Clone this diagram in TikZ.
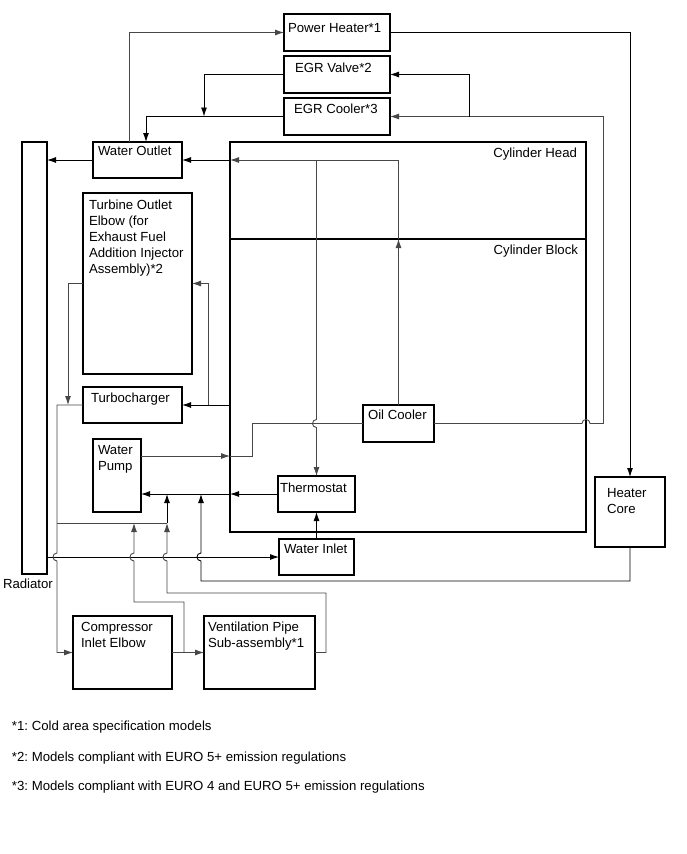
\documentclass[tikz,border=0pt]{standalone}
\usepackage{fontspec}
\setmainfont{Liberation Sans}
\usetikzlibrary{arrows.meta}
\frenchspacing
\newcommand{\mlines}[1]{\begin{tabular}[t]{@{}l@{}}#1\end{tabular}}
\begin{document}
\begin{tikzpicture}[x=1pt,y=-1pt,
 box/.style={draw,line width=1.2pt,inner sep=0pt,outer sep=0pt,rectangle},
 txt/.style={inner sep=0pt,outer sep=0pt,anchor=base west,font=\fontsize{13.2}{16}\selectfont},
 txtr/.style={inner sep=0pt,outer sep=0pt,anchor=base east,font=\fontsize{13.2}{16}\selectfont},
 flow/.style={draw,line width=0.9pt,black},
 flowg/.style={draw,line width=0.9pt,black!72},
 arr/.style={-{Latex[length=9pt,width=6pt]}}]
\useasboundingbox (0,0) rectangle (687,854);
% boxes
\node[box,minimum width=106pt,minimum height=37pt] (pw) at (337,32.5) {};
\node[box,minimum width=106pt,minimum height=37pt] (egrv) at (337,74.5) {};
\node[box,minimum width=106pt,minimum height=37pt] (egrc) at (337,116.5) {};
\node[box,minimum width=89pt,minimum height=36pt] (wo) at (137.5,160) {};
\node[box,line width=1.4pt,minimum width=25pt,minimum height=432pt] (rad) at (34.5,358) {};
\node[box,line width=1.4pt,minimum width=356pt,minimum height=390pt] (cyl) at (408,337) {};
\node[box,minimum width=109pt,minimum height=181pt] (toe) at (137.5,283.5) {};
\node[box,minimum width=99pt,minimum height=36pt] (tc) at (132.5,405) {};
\node[box,minimum width=48pt,minimum height=73pt] (wp) at (117,475.5) {};
\node[box,minimum width=71pt,minimum height=37pt] (oc) at (398.5,423.5) {};
\node[box,minimum width=77pt,minimum height=36pt] (th) at (316.5,494) {};
\node[box,minimum width=75pt,minimum height=36pt] (wi) at (316.5,557) {};
\node[box,minimum width=70pt,minimum height=70pt] (hc) at (630,512) {};
\node[box,minimum width=99pt,minimum height=73pt] (cie) at (122.5,652.5) {};
\node[box,minimum width=111pt,minimum height=73pt] (vp) at (259.5,652.5) {};
\draw[line width=1.2pt] (cyl.west |- 0,239) -- (cyl.east |- 0,239);
% texts
\node[txt] (pwt) at (288,32) {Power Heater*1};
\node[txt] (egrvt) at (295,72) {EGR Valve*2};
\node[txt] (egrct) at (294,113) {EGR Cooler*3};
\node[txt] (wot) at (98,155) {Water Outlet};
\node[txt] (toet) at (89,209) {\mlines{Turbine Outlet\\Elbow (for\\Exhaust Fuel\\Addition Injector\\Assembly)*2}};
\node[txt] (tct) at (91,402) {Turbocharger};
\node[txt] (wpt) at (98,454) {\mlines{Water\\Pump}};
\node[txt] (oct) at (368,419) {Oil Cooler};
\node[txt] (tht) at (280,492) {Thermostat};
\node[txt] (wit) at (284,553) {Water Inlet};
\node[txt] (hct) at (607,497) {\mlines{Heater\\Core}};
\node[txt] (ciet) at (81,631) {\mlines{Compressor\\Inlet Elbow}};
\node[txt] (vpt) at (208,631) {\mlines{Ventilation Pipe\\Sub-assembly*1}};
\node[txtr] (cht) at (577,157) {Cylinder Head};
\node[txtr] (cbt) at (578,254) {Cylinder Block};
\node[txt] (radt) at (3,588) {Radiator};
\node[txt] (n1) at (12,730.5) {*1: Cold area specification models};
\node[txt] (n2) at (12,761) {*2: Models compliant with EURO 5+ emission regulations};
\node[txt] (n3) at (12,790) {*3: Models compliant with EURO 4 and EURO 5+ emission regulations};
% connectors top
\coordinate (woA) at (wo.north -| 129,0);
\draw[flowg,arr] (woA) |- (pw.west);
\draw[flow,arr] (pw.east) -| (hc.north);
\coordinate (jV) at (204,116.5);
\draw[flow,arr] (egrv.west) -| (jV);
\coordinate (woB) at (wo.north -| 146,0);
\draw[flow,arr] (egrc.west) -| (woB);
\coordinate (ocR) at (603,423.5);
\coordinate (jE) at (469,116.5);
\draw[flowg] (oc.east) -- (582,423.5) .. controls (582,418.2) and (590,418.2) .. (590,423.5) -- (ocR);
\draw[flowg,arr] (ocR) |- (egrc.east);
\draw[flow,arr] (jE) |- (egrv.east);
% cylinder head / block
\coordinate (dvO) at (oc.north |- 0,239);
\draw[flowg,arr] (oc.north) -- (dvO);
\coordinate (chW) at (cyl.west |- wo.east);
\draw[flowg,arr] (dvO) |- (chW);
\draw[flow,arr] (chW) -- (wo.east);
\draw[flow,arr] (wo.west) -- (rad.east |- wo.west);
\coordinate (bpT) at (th.north |- 0,160);
\draw[flowg,arr] (bpT) -- (316.5,419.5) .. controls (311.2,419.5) and (311.2,427.5) .. (316.5,427.5) -- (th.north);
\coordinate (wpO) at (wp.east |- 0,456);
\coordinate (cwP) at (cyl.west |- 0,456);
\draw[flowg,arr] (wpO) -- (cwP);
\draw[flowg] (cwP) -- (252,456) |- (oc.west);
\coordinate (cwT) at (cyl.west |- th.west);
\draw[flow,arr] (th.west) -- (cwT);
\draw[flow,arr] (cwT) -- (wp.east |- th.west);
\draw[flow,arr] (wi.north) -- (th.south);
\draw[flow,arr] (rad.east |- wi.west) -- (wi.west);
% turbo
\coordinate (cwC) at (cyl.west |- tc.east);
\draw[flow,arr] (cwC) -- (tc.east);
\coordinate (jT) at (208,405);
\draw[flowg,arr] (jT) |- (toe.east);
\coordinate (jO) at (68,405);
\draw[flowg,arr] (toe.west) -| (jO);
\draw[flowg,arr] (tc.west) -- (57,405) -- (57,553) .. controls (51.7,553) and (51.7,561) .. (57,561) |- (cie.west);
\coordinate (j57) at (57,523);
\coordinate (j167) at (167,523);
\draw[flowg] (j57) -- (j167);
\draw[flow,arr] (j167) -- (j167 |- th.west);
\draw[flowg,arr] (vp.east) -| (326,593) -- (167,593) -- (167,561) .. controls (161.7,561) and (161.7,553) .. (167,553) -- (j167);
\draw[flowg,arr] (cie.east) -- (vp.west);
\coordinate (jC) at (184,652.5);
\draw[flowg,arr] (jC) -- (184,602) -- (134,602) -- (134,561) .. controls (128.7,561) and (128.7,553) .. (134,553) -- (134,523);
\draw[flow,arr] (hc.south) -- (630,581) -- (201,581) -- (201,561) .. controls (195.7,561) and (195.7,553) .. (201,553) -- (201,494);
\end{tikzpicture}
\end{document}
